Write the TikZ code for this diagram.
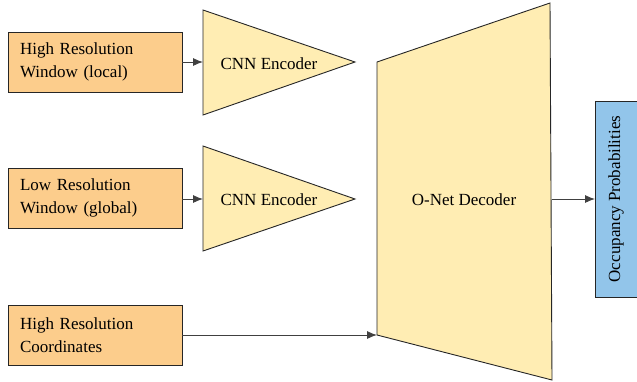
\documentclass[tikz,border=0pt]{standalone}
\usepackage{fontspec}
\setmainfont{Liberation Serif}
\usetikzlibrary{arrows.meta}
\definecolor{inorange}{HTML}{FCCD8C}
\definecolor{encyellow}{HTML}{FFEDB3}
\definecolor{outblue}{HTML}{92C5EA}
\begin{document}
\begin{tikzpicture}[x=1pt,y=-1pt,
  inbox/.style={draw=black!85, fill=inorange, line width=0.9pt, minimum width=174pt, minimum height=60pt,
    inner xsep=12pt, text width=150pt, align=left, font=\fontsize{17}{23}\selectfont, anchor=center},
  shapeline/.style={draw=black!85, fill=encyellow, line width=0.9pt},
  lbl/.style={font=\fontsize{17}{19}\selectfont, inner sep=0pt},
  conn/.style={draw=black!75, line width=0.9pt, -{Latex[length=10pt,width=8pt]}}]
\useasboundingbox (0,0) rectangle (637,381);
% inputs
\node[inbox] (hr) at (95,62) {High Resolution\\Window (local)};
\node[inbox] (lr) at (95,198) {Low Resolution\\Window (global)};
\node[inbox] (hc) at (95,335) {High Resolution\\Coordinates};
% encoders
\draw[shapeline] (203,10) -- (355,62) -- (203,115) -- cycle;
\coordinate (e1) at (203,62);
\node[lbl] (e1l) at (269,64) {CNN Encoder};
\draw[shapeline] (203,146) -- (355,199) -- (203,251) -- cycle;
\coordinate (e2) at (203,199);
\node[lbl] (e2l) at (269,200) {CNN Encoder};
% decoder
\draw[shapeline] (377,62) -- (550,3) -- (552,380) -- (377,335) -- cycle;
\coordinate (din) at (377,335);
\coordinate (dout) at (551.5,199);
\node[lbl] (dl) at (464,200) {O-Net Decoder};
% output
\draw[draw=black!85, fill=outblue, line width=0.9pt] (595,101) rectangle (650,297);
\coordinate (oin) at (595,199);
\node[lbl, rotate=90] (ol) at (616,199) {Occupancy Probabilities};
% connectors
\draw[conn] (hr.east) -- (e1);
\draw[conn] (lr.east |- e2) -- (e2);
\draw[conn] (hc.east) -- (din);
\draw[conn] (dout) -- (oin);
\end{tikzpicture}
\end{document}
